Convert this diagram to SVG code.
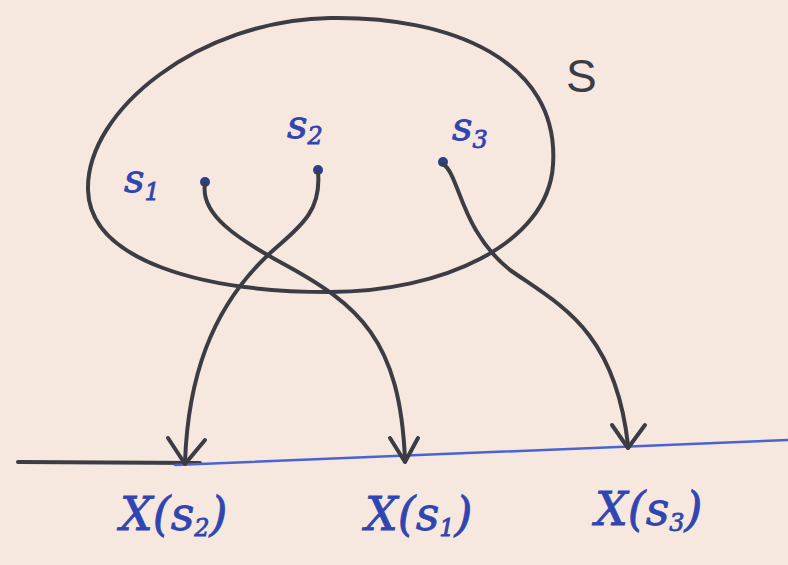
<svg xmlns="http://www.w3.org/2000/svg" width="788" height="565" viewBox="0 0 788 565">
<defs>
<style>
.ink{fill:none;stroke:#3c3c44;stroke-width:4;stroke-linecap:round;stroke-linejoin:round}
.blue{fill:none;stroke:#4a63d0;stroke-width:2.5;stroke-linecap:round}
.lbl{font-family:"DejaVu Serif","Liberation Serif",serif;font-style:italic;fill:#3045b0;stroke:#3045b0;stroke-width:0.8}
.sub{font-size:24px}
</style>
</defs>
<rect width="788" height="565" fill="#f6e8df"/>
<g id="set-S">
<path class="ink" d="M 330 18 C 450 16 560 60 553 165 C 548 245 440 292 330 292 C 200 292 90 260 88 190 C 86 110 200 20 330 18 Z"/>
<text x="566" y="92" font-family="'Liberation Sans',sans-serif" font-size="46" fill="#3c3c44">S</text>
</g>
<g id="s1">
<circle cx="205" cy="182" r="5" fill="#2f3e8a"/>
<text class="lbl" x="124" y="192" font-size="40">s<tspan class="sub" dy="8">1</tspan></text>
</g>
<g id="s2">
<circle cx="318" cy="170" r="5" fill="#2f3e8a"/>
<text class="lbl" x="287" y="138" font-size="40">s<tspan class="sub" dy="6">2</tspan></text>
</g>
<g id="s3">
<circle cx="443" cy="162" r="5" fill="#2f3e8a"/>
<text class="lbl" x="452" y="140" font-size="40">s<tspan class="sub" dy="8">3</tspan></text>
</g>
<g id="axis">
<path class="ink" d="M 18 462 L 200 463" stroke-width="3.5"/>
<path class="blue" d="M 175 465 L 788 440"/>
</g>
<g id="connectors">
<path class="ink" d="M 318 172 C 322 215 295 230 268 255 C 210 310 188 380 185 462"/>
<path class="ink" d="M 168 438 L 185 464 L 205 440"/>
<path class="ink" d="M 205 184 C 200 215 240 240 280 262 C 360 305 400 340 405 460"/>
<path class="ink" d="M 390 438 L 405 462 L 418 438"/>
<path class="ink" d="M 443 164 C 460 175 460 230 510 270 C 560 305 615 330 628 445"/>
<path class="ink" d="M 612 425 L 628 448 L 645 425"/>
</g>
<g id="labels">
<text class="lbl" x="120" y="530" font-size="46">X(s<tspan class="sub" dy="6">2</tspan><tspan dy="-6">)</tspan></text>
<text class="lbl" x="365" y="530" font-size="46">X(s<tspan class="sub" dy="6">1</tspan><tspan dy="-6">)</tspan></text>
<text class="lbl" x="595" y="525" font-size="46">X(s<tspan class="sub" dy="6">3</tspan><tspan dy="-6">)</tspan></text>
</g>
</svg>
